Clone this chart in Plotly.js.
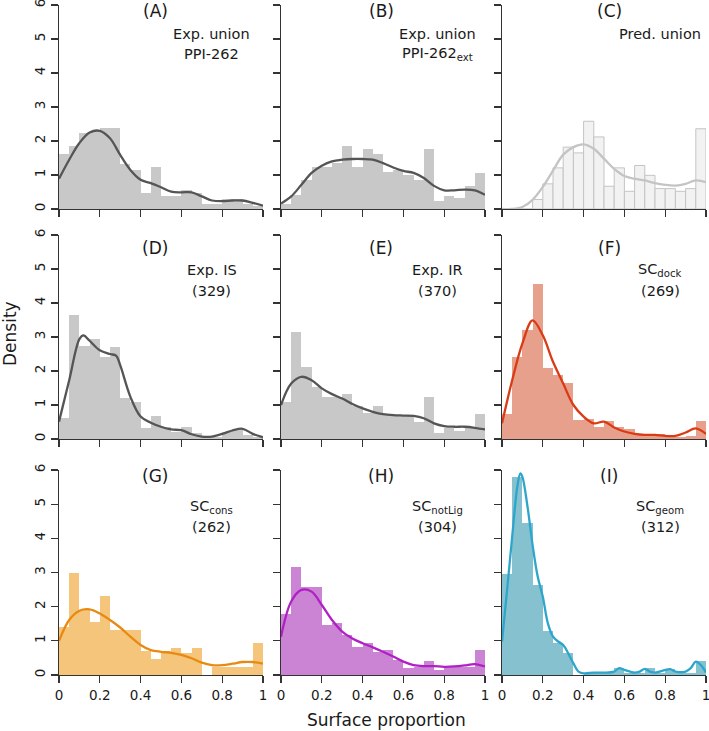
<!DOCTYPE html>
<html>
<head>
<meta charset="utf-8">
<script src="https://cdn.plot.ly/plotly-3.0.1.min.js"></script>
<style>html,body{margin:0;padding:0;background:#fff;}#chart{width:709px;height:731px;}</style>
</head>
<body>
<div id="chart"></div>
<script>
// ---------- DATA ----------
const binMids = [0.025,0.075,0.125,0.175,0.225,0.275,0.325,0.375,0.425,0.475,0.525,0.575,0.625,0.675,0.725,0.775,0.825,0.875,0.925,0.975];
const tickX = [0, 0.2, 0.4, 0.6, 0.8, 1];
const tickXLabels = ["0", "0.2", "0.4", "0.6", "0.8", "1"];
const tickY = [0, 1, 2, 3, 4, 5, 6];
const tickYLabels = ["0", "1", "2", "3", "4", "5", "6"];

const panelLabels = ["(A)", "(B)", "(C)", "(D)", "(E)", "(F)", "(G)", "(H)", "(I)"];
const panelLine1 = ["Exp. union", "Exp. union", "Pred. union", "Exp. IS", "Exp. IR", "SC<sub>dock</sub>", "SC<sub>cons</sub>", "SC<sub>notLig</sub>", "SC<sub>geom</sub>"];
const panelLine2 = ["PPI-262", "PPI-262<sub>ext</sub>", "", "(329)", "(370)", "(269)", "(262)", "(304)", "(312)"];

// histogram densities (bin width 0.05)
const histA = [1.61,1.86,2.23,2.30,2.39,2.39,1.32,1.15,0.47,1.23,0.39,0.39,0.55,0.47,0.16,0.16,0.30,0.30,0.15,0.08];
const histB = [0.16,0.42,0.86,1.23,1.25,1.35,1.86,1.23,1.77,1.61,1.08,1.15,1.00,0.86,1.77,0.24,0.39,0.32,0.69,1.05];
const histC = [0,0,0,0.28,0.74,1.21,1.82,1.65,2.58,2.12,0.67,1.21,0.52,1.28,0.99,0.60,0.60,0.52,0.60,2.36];
const histD = [0.62,3.66,2.74,2.94,2.40,2.70,1.21,1.10,0.31,0.68,0.36,0.22,0.36,0.19,0.07,0.06,0.20,0.30,0.12,0.06];
const histE = [1.10,3.15,2.13,1.52,1.24,1.24,1.31,0.98,0.77,0.98,0.70,0.70,0.70,0.50,1.24,0.19,0.32,0.25,0.35,0.75];
const histF = [0.75,2.40,3.22,4.55,2.09,1.88,1.64,0.56,0.60,0.34,0.53,0.34,0.29,0.12,0.14,0.14,0.09,0.07,0.09,0.53];
const histG = [1.40,3.00,1.90,1.55,2.31,1.32,1.32,1.32,0.70,0.48,0.70,0.78,0.63,0.78,0,0.24,0.24,0.24,0.24,0.93];
const histH = [1.79,3.17,2.59,2.59,1.46,1.51,1.17,0.81,0.95,0.68,0.73,0.44,0.20,0.22,0.41,0.15,0.22,0.22,0.22,0.73];
const histI = [2.96,5.79,4.46,2.63,1.29,0.93,0.65,0,0.07,0.07,0.07,0.20,0.07,0.07,0.20,0.07,0.17,0.07,0.07,0.41];

// density curves
const curveX = [0,0.05,0.1,0.15,0.2,0.25,0.3,0.35,0.4,0.45,0.5,0.55,0.6,0.65,0.7,0.75,0.8,0.85,0.9,0.95,1.0];
const curveA = [0.89,1.45,1.94,2.25,2.30,2.08,1.59,1.15,0.86,0.76,0.64,0.51,0.49,0.49,0.37,0.25,0.23,0.25,0.25,0.18,0.10];
const curveB = [0.16,0.37,0.71,1.06,1.27,1.40,1.45,1.47,1.47,1.45,1.35,1.22,1.12,1.06,0.91,0.68,0.55,0.55,0.57,0.55,0.42];
const curveC = [0,0,0.06,0.27,0.65,1.13,1.60,1.82,1.90,1.77,1.48,1.18,0.97,0.89,0.84,0.76,0.71,0.69,0.74,0.84,0.79];
const curveDX = [0,0.05,0.1,0.12,0.15,0.2,0.25,0.28,0.3,0.35,0.4,0.45,0.5,0.55,0.6,0.65,0.7,0.75,0.8,0.85,0.9,0.95,1.0];
const curveD = [0.51,1.73,2.94,3.05,2.89,2.61,2.50,2.45,2.17,1.24,0.66,0.48,0.36,0.28,0.26,0.14,0.07,0.07,0.15,0.25,0.30,0.15,0.05];
const curveE = [1.00,1.63,1.83,1.73,1.49,1.32,1.19,1.03,0.90,0.80,0.73,0.70,0.69,0.68,0.61,0.46,0.38,0.36,0.36,0.33,0.28];
const curveF = [0.46,1.73,2.81,3.49,3.05,2.27,1.63,1.00,0.66,0.46,0.51,0.34,0.22,0.15,0.12,0.12,0.09,0.09,0.19,0.31,0.15];
const curveG = [1.00,1.61,1.88,1.92,1.80,1.61,1.39,1.12,0.88,0.73,0.68,0.65,0.59,0.49,0.36,0.29,0.29,0.33,0.38,0.38,0.33];
const curveH = [1.12,2.15,2.49,2.44,2.05,1.61,1.27,1.07,0.93,0.81,0.68,0.54,0.39,0.29,0.26,0.26,0.24,0.25,0.28,0.32,0.25];
const curveIX = [0,0.025,0.05,0.075,0.09,0.1,0.125,0.15,0.175,0.2,0.225,0.25,0.275,0.3,0.325,0.35,0.375,0.4,0.45,0.5,0.55,0.575,0.6,0.65,0.675,0.7,0.725,0.75,0.8,0.825,0.85,0.9,0.925,0.95,0.975,1.0];
const curveI = [0.98,2.49,4.05,5.51,5.90,5.80,4.93,3.80,2.88,2.29,1.51,1.12,0.98,0.88,0.63,0.34,0.10,0.05,0.07,0.07,0.10,0.20,0.15,0.07,0.10,0.18,0.10,0.07,0.15,0.17,0.10,0.10,0.20,0.39,0.29,0.07];

// ---------- STYLES ----------
const hists = [histA,histB,histC,histD,histE,histF,histG,histH,histI];
const curves = [[curveX,curveA],[curveX,curveB],[curveX,curveC],[curveDX,curveD],[curveX,curveE],[curveX,curveF],[curveX,curveG],[curveX,curveH],[curveIX,curveI]];
const barFill = ['#c8c8c8','#c8c8c8','#f2f2f2','#c8c8c8','#c8c8c8','#e6a08c','#f5c57c','#cb84d3','#86c1d0'];
const barLine = [null,null,'#c4c4c4',null,null,null,null,null,null];
const curveCol = ['#555555','#555555','#c4c4c4','#555555','#555555','#d93c14','#e88a12','#b020c6','#2ea6cc'];

const W = 709, H = 731;
const colL = [59, 281, 502], colR = [263, 485, 706];
const rowT = [5, 235, 470], rowB = [209, 439, 675];
const px2x = p => p / W, px2y = p => 1 - p / H;

const traces = [];
const layout = {
  width: W, height: H, margin: {l:0, r:0, t:0, b:0},
  paper_bgcolor: '#fff', plot_bgcolor: '#fff',
  showlegend: false, bargap: 0,
  font: {family: 'DejaVu Sans, sans-serif', color: '#1a1a1a'},
  annotations: []
};

const labelX = [155, 381, 609];
const labelY = [11, 248, 476];
const textX = [212, 437, 660];
const line1Y = [34, 270, 507];
const line2Y = [54, 291, 527];

for (let i = 0; i < 9; i++) {
  const r = Math.floor(i / 3), c = i % 3;
  const n = i + 1;
  const xa = 'x' + (n === 1 ? '' : n), ya = 'y' + (n === 1 ? '' : n);
  const xk = 'xaxis' + (n === 1 ? '' : n), yk = 'yaxis' + (n === 1 ? '' : n);
  traces.push({
    type: 'bar', x: binMids, y: hists[i], width: 0.05, xaxis: xa, yaxis: ya,
    marker: {color: barFill[i], line: {color: barLine[i] || barFill[i], width: barLine[i] ? 1 : 0}},
    hoverinfo: 'skip'
  });
  traces.push({
    type: 'scatter', mode: 'lines', x: curves[i][0], y: curves[i][1], xaxis: xa, yaxis: ya,
    line: {color: curveCol[i], width: 2.3, shape: 'spline', smoothing: 1}, hoverinfo: 'skip'
  });
  layout[xk] = {
    domain: [px2x(colL[c]), px2x(colR[c])], anchor: ya, range: [0, 1], fixedrange: true,
    showgrid: false, zeroline: false, showline: true, linecolor: '#333', linewidth: 1.3,
    ticks: 'outside', ticklen: 7, tickwidth: 1.3, tickcolor: '#333',
    tickvals: tickX, ticktext: tickXLabels, showticklabels: r === 2,
    ticklabeloverflow: 'allow',
    tickfont: {size: 13.5, color: '#1a1a1a'}
  };
  layout[yk] = {
    domain: [px2y(rowB[r]), px2y(rowT[r])], anchor: xa, range: [0, 6], fixedrange: true,
    showgrid: false, zeroline: false, showline: true, linecolor: '#333', linewidth: 1.3,
    ticks: 'outside', ticklen: 7, tickwidth: 1.3, tickcolor: '#333',
    tickvals: tickY, ticktext: tickYLabels, showticklabels: c === 0, tickangle: -90,
    ticklabeloverflow: 'allow',
    tickfont: {size: 13.5, color: '#1a1a1a'}
  };
  layout.annotations.push({
    xref: 'paper', yref: 'paper', x: px2x(labelX[c]), y: px2y(labelY[r]),
    xanchor: 'center', yanchor: 'middle', showarrow: false, text: panelLabels[i],
    font: {size: 17, color: '#1a1a1a'}
  });
  layout.annotations.push({
    xref: 'paper', yref: 'paper', x: px2x(textX[c]), y: px2y(line1Y[r]),
    xanchor: 'center', yanchor: 'middle', showarrow: false, text: panelLine1[i],
    font: {size: 14.5, color: '#1a1a1a'}
  });
  if (panelLine2[i]) {
    layout.annotations.push({
      xref: 'paper', yref: 'paper', x: px2x(textX[c]), y: px2y(line2Y[r]),
      xanchor: 'center', yanchor: 'middle', showarrow: false, text: panelLine2[i],
      font: {size: 14.5, color: '#1a1a1a'}
    });
  }
}
layout.annotations.push({
  xref: 'paper', yref: 'paper', x: px2x(10), y: px2y(334), xanchor: 'center', yanchor: 'middle',
  textangle: -90, showarrow: false, text: 'Density', font: {size: 17, color: '#1a1a1a'}
});
layout.annotations.push({
  xref: 'paper', yref: 'paper', x: px2x(386), y: px2y(720), xanchor: 'center', yanchor: 'middle',
  showarrow: false, text: 'Surface proportion', font: {size: 17, color: '#1a1a1a'}
});

Plotly.newPlot('chart', traces, layout, {staticPlot: true, displayModeBar: false});
</script>
</body>
</html>
